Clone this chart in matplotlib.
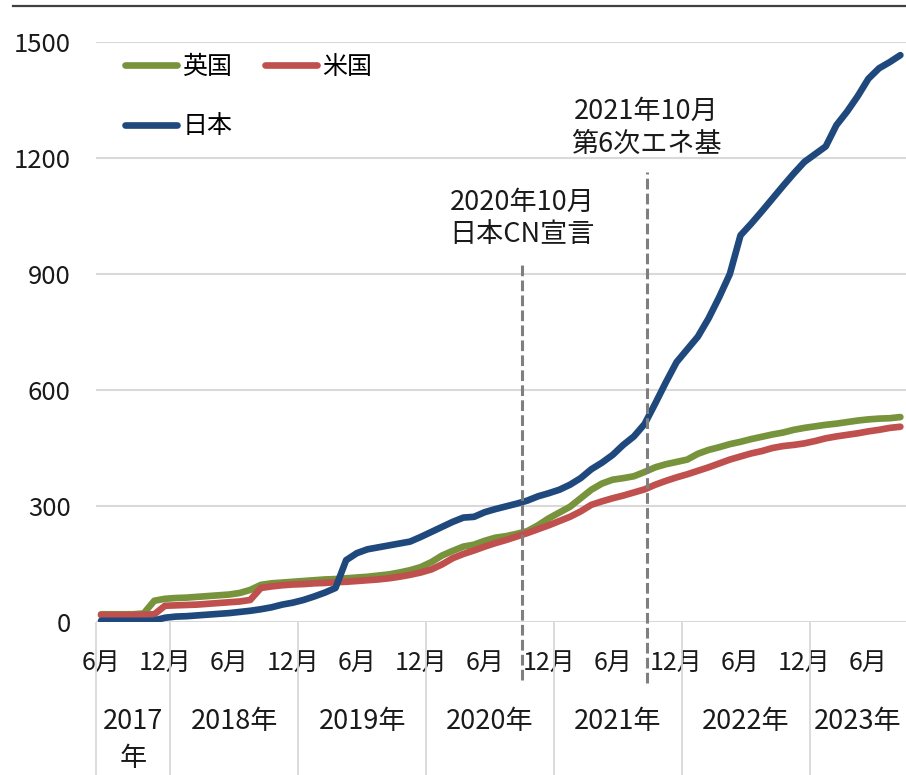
import matplotlib
matplotlib.use('Agg')
import matplotlib.pyplot as plt
from matplotlib.lines import Line2D
import matplotlib.transforms as mtransforms
import numpy as np

plt.rcParams['font.family'] = ['Noto Sans CJK JP', 'DejaVu Sans']
plt.rcParams['font.size'] = 18

# monthly values, Jun 2017 .. Sep 2023
uk = [20, 20, 20, 20, 22, 55, 60, 62, 63, 65, 67, 69, 71, 75, 83, 96, 100, 102, 104, 106,
      108, 110, 111, 113, 115, 117, 120, 123, 128, 134, 142, 155, 172, 184, 195, 200, 210, 218, 222, 228,
      235, 250, 268, 283, 298, 320, 342, 358, 368, 372, 377, 388, 400, 408, 414, 420, 435, 445, 452, 460,
      466, 473, 479, 485, 490, 497, 502, 506, 510, 513, 517, 521, 524, 526, 527, 530]
us = [18, 18, 18, 18, 19, 20, 42, 43, 44, 45, 47, 49, 51, 53, 57, 88, 92, 95, 97, 98,
      100, 101, 103, 104, 106, 108, 110, 113, 117, 122, 128, 136, 149, 165, 176, 185, 195, 204, 212, 221,
      230, 240, 250, 261, 272, 286, 303, 312, 320, 327, 335, 343, 355, 365, 374, 382, 391, 400, 410, 420,
      428, 436, 442, 450, 455, 458, 462, 468, 475, 480, 484, 488, 493, 497, 502, 505]
japan = [3, 3, 3, 3, 3, 4, 11, 14, 15, 17, 19, 21, 23, 26, 29, 33, 38, 45, 50, 57,
         66, 76, 88, 160, 178, 188, 193, 198, 203, 208, 220, 233, 246, 259, 270, 272, 284, 292, 299, 306,
         314, 325, 333, 342, 355, 372, 395, 412, 432, 458, 480, 512, 565, 620, 672, 705, 738, 785, 840, 900,
         1000, 1030, 1062, 1095, 1128, 1160, 1190, 1210, 1230, 1285, 1320, 1360, 1405, 1432, 1448, 1466]

month_ticks = [0, 6, 12, 18, 24, 30, 36, 42, 48, 54, 60, 66, 72]
month_labels = ['6月', '12月'] * 6 + ['6月']
year_bounds = [-0.5, 6.5, 18.5, 30.5, 42.5, 54.5, 66.5, 75.5]
year_labels = ['2017\n年', '2018年', '2019年', '2020年', '2021年', '2022年', '2023年']

events = [39.5, 51.2]
event_labels = ['2020年10月\n日本CN宣言', '2021年10月\n第6次エネ基']

x = np.arange(len(japan))
txt = '#1a1a1a'

fig = plt.figure(figsize=(9.06, 7.75), dpi=100)
ax = fig.add_axes([95.7 / 906, 153 / 775, 810 / 906, 580 / 775])

ax.plot(x, uk, color='#77933C', lw=4.8, solid_capstyle='round', label='英国')
ax.plot(x, us, color='#C0504D', lw=4.8, solid_capstyle='round', label='米国')
ax.plot(x, japan, color='#1F497D', lw=4.8, solid_capstyle='round', label='日本')

ax.set_xlim(-0.5, 75.5)
ax.set_ylim(0, 1500)
ax.set_yticks(range(0, 1501, 300))
ax.yaxis.grid(True, color='#D9D9D9', lw=1.5)
ax.set_axisbelow(True)
for s in ax.spines.values():
    s.set_visible(False)
ax.tick_params(axis='y', length=0, pad=18, labelsize=18.5, labelcolor=txt)

ax.set_xticks(month_ticks)
ax.set_xticklabels(month_labels)
ax.set_xticks(year_bounds[:-1], minor=True)
ax.tick_params(axis='x', which='major', length=0, pad=20, labelsize=18, labelcolor=txt)
ax.tick_params(axis='x', which='minor', length=110, width=1.3, color='#D9D9D9')

trans = mtransforms.blended_transform_factory(ax.transData, ax.transAxes)
for i, lab in enumerate(year_labels):
    cx = (year_bounds[i] + year_bounds[i + 1]) / 2
    ax.text(cx, -0.148, lab, transform=trans, ha='center', va='top', fontsize=19.5,
            color=txt, linespacing=1.5)

ylo = [-0.1, -0.105]
yhi = [0.619, 0.776]
for ev, lab, lo, hi, ty in zip(events, event_labels, ylo, yhi, [1043, 1278]):
    ax.axvline(ev, ymin=lo, ymax=hi, color='#7F7F7F', lw=2.2, dashes=(3.5, 1.4), clip_on=False)
    ax.text(ev, ty, lab, ha='center', va='center', fontsize=19.5, color=txt, linespacing=1.25)

h = ax.get_lines()
ax.legend([h[0], h[2], h[1]], ['英国', '日本', '米国'], ncol=2, loc='upper left',
          bbox_to_anchor=(0.036, 0.98), frameon=False, borderpad=0, borderaxespad=0,
          handlelength=2.1, handletextpad=0.2, columnspacing=1.3, labelspacing=1.35, fontsize=18)

fig.add_artist(Line2D([13 / 906, 1], [1 - 6 / 775] * 2, color='#404040', lw=1.6))

fig.savefig('out.png', dpi=100)
